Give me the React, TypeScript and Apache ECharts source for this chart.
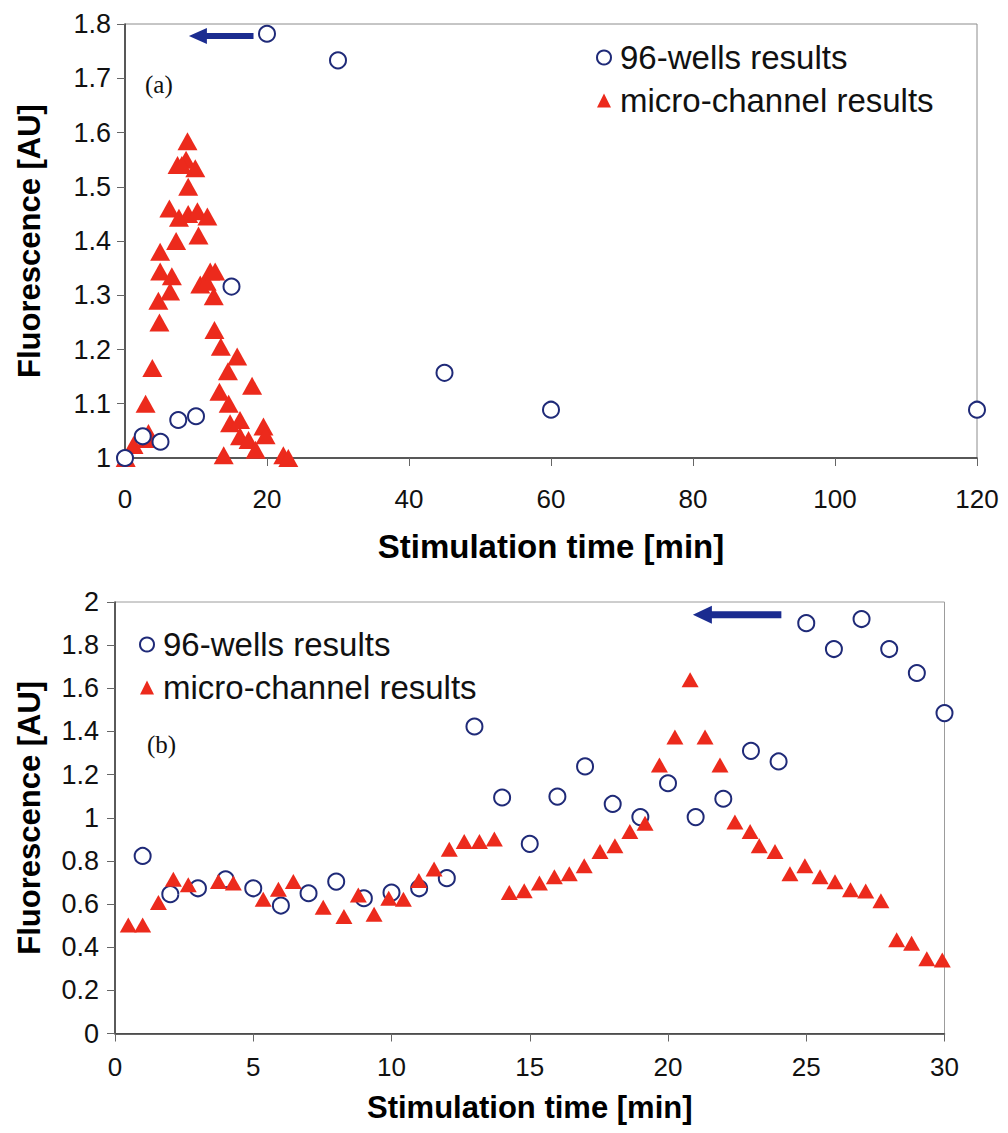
import React, { useEffect, useRef } from "react";
import * as echarts from "echarts";

// ---- Panel (a) data ----
const aWellsX = [0, 2.5, 5, 7.5, 10, 15, 20, 30, 45, 60, 120];
const aWellsY = [1.0, 1.04, 1.03, 1.07, 1.077, 1.316, 1.782, 1.733, 1.157, 1.089, 1.089];

const aChannelX = [
  0.1, 1.2, 3.0, 3.3, 2.9, 3.85, 4.85, 4.7, 6.35, 4.95, 6.6, 4.95, 7.2, 6.25, 7.6, 8.9,
  10.2, 11.6, 10.35, 7.4, 8.6, 9.9, 8.8, 8.9, 8.0, 10.6, 11.5, 12.0, 12.7, 12.5, 12.6,
  13.5, 15.8, 14.5, 17.9, 13.3, 14.6, 14.8, 16.2, 19.5, 19.8, 16.2, 17.4, 18.4, 13.9,
  22.3, 23.0,
];
const aChannelY = [
  1.0, 1.024, 1.035, 1.046, 1.1, 1.166, 1.25, 1.29, 1.307, 1.344, 1.335, 1.38, 1.4, 1.46,
  1.443, 1.45, 1.455, 1.445, 1.41, 1.54, 1.55, 1.534, 1.584, 1.5, 1.54, 1.32, 1.325,
  1.344, 1.344, 1.298, 1.236, 1.205, 1.187, 1.16, 1.133, 1.122, 1.1, 1.064, 1.07, 1.058,
  1.042, 1.04, 1.033, 1.015, 1.005, 1.005, 1.0,
];

// ---- Panel (b) data ----
const bWellsX = [
  1, 2, 3, 4, 5, 6, 7, 8, 9, 10, 11, 12, 13, 14, 15, 16, 17, 18, 19, 20, 21, 22, 23, 24,
  25, 26, 27, 28, 29, 30,
];
const bWellsY = [
  0.823, 0.646, 0.673, 0.715, 0.673, 0.593, 0.65, 0.704, 0.627, 0.653, 0.673, 0.72, 1.423,
  1.094, 0.879, 1.098, 1.238, 1.064, 1.003, 1.16, 1.003, 1.088, 1.31, 1.261, 1.902, 1.782,
  1.921, 1.782, 1.671, 1.485,
];
const bChannelX = [
  0.48, 1.0, 1.57, 2.11, 2.65, 3.74, 4.28, 5.36, 5.91, 6.45, 7.53, 8.28, 8.8, 9.37, 9.9,
  10.43, 10.99, 11.54, 12.09, 12.63, 13.18, 13.72, 14.26, 14.8, 15.35, 15.89, 16.43, 16.97,
  17.54, 18.08, 18.62, 19.17, 19.69, 20.25, 20.8, 21.34, 21.88, 22.42, 22.97, 23.3, 23.87,
  24.41, 24.95, 25.5, 26.04, 26.6, 27.15, 27.7, 28.27, 28.81, 29.36, 29.92,
];
const bChannelY = [
  0.503, 0.503, 0.607, 0.715, 0.689, 0.704, 0.697, 0.622, 0.669, 0.704, 0.585, 0.542, 0.642,
  0.553, 0.627, 0.622, 0.709, 0.762, 0.854, 0.89, 0.89, 0.901, 0.653, 0.662, 0.697, 0.727,
  0.74, 0.777, 0.843, 0.87, 0.936, 0.975, 1.245, 1.374, 1.64, 1.374, 1.245, 0.98, 0.936,
  0.87, 0.843, 0.74, 0.777, 0.727, 0.703, 0.666, 0.661, 0.615, 0.434, 0.418, 0.346, 0.341,
];

// Axis settings
const aXTicks = { min: 0, max: 120, interval: 20 };
const aYTicks = { min: 1, max: 1.8, interval: 0.1 };
const bXTicks = { min: 0, max: 30, interval: 5 };
const bYTicks = { min: 0, max: 2, interval: 0.2 };

const seriesNames = ["96-wells results", "micro-channel results"];
const xTitle = "Stimulation time [min]";
const yTitle = "Fluorescence [AU]";

// Arrow annotations in data coordinates: [fromX, toX, y]
const aArrow = [18.1, 9.0, 1.778];
const bArrow = [24.1, 20.9, 1.941];

const zip = (xs: number[], ys: number[]) => xs.map((x, i) => [x, ys[i]]);

const SANS = "'Liberation Sans', Arial, sans-serif";
const SERIF = "'Liberation Serif', 'Times New Roman', serif";
const NAVY = "#1f2a78";
const RED = "#ec2a1c";
const ARROW = "#1b2c90";

function axisX(gridIndex: number, t: any, labelMargin: number, nameGap: number, nameSize: number) {
  return {
    gridIndex,
    type: "value",
    ...t,
    axisLine: { show: true, onZero: false, lineStyle: { color: "#333", width: 1.5 } },
    axisTick: { show: true, length: 8, inside: false, lineStyle: { color: "#666" } },
    splitLine: { show: false },
    axisLabel: { fontSize: 26, color: "#111", margin: labelMargin, fontFamily: SANS },
    name: xTitle,
    nameLocation: "middle",
    nameGap,
    nameTextStyle: { fontSize: nameSize, fontWeight: "bold", color: "#000", fontFamily: SANS },
  };
}

function axisY(gridIndex: number, t: any, labelMargin: number, nameGap: number) {
  return {
    gridIndex,
    type: "value",
    ...t,
    axisLine: { show: true, onZero: false, lineStyle: { color: "#333", width: 1.5 } },
    axisTick: { show: true, length: 8, inside: false, lineStyle: { color: "#666" } },
    splitLine: { show: false },
    axisLabel: { fontSize: 27, color: "#111", margin: labelMargin, fontFamily: SANS },
    name: yTitle,
    nameLocation: "middle",
    nameGap,
    nameTextStyle: { fontSize: 31, fontWeight: "bold", color: "#000", fontFamily: SANS },
  };
}

function arrowPoly(chart: any, gridIndex: number, arr: number[], headLen: number, headHalf: number, shaftHalf: number) {
  const p1 = chart.convertToPixel({ gridIndex }, [arr[0], arr[2]]);
  const p2 = chart.convertToPixel({ gridIndex }, [arr[1], arr[2]]);
  const tail = p1[0];
  const tip = p2[0];
  const y = p1[1];
  const hb = tip + headLen;
  return {
    type: "polygon",
    silent: true,
    shape: {
      points: [
        [tip, y],
        [hb, y - headHalf],
        [hb, y - shaftHalf],
        [tail, y - shaftHalf],
        [tail, y + shaftHalf],
        [hb, y + shaftHalf],
        [hb, y + headHalf],
      ],
    },
    style: { fill: ARROW },
  };
}

function legendFor(left: number, top: number, fontSize: number, gap: number) {
  return {
    orient: "vertical",
    left,
    top,
    itemWidth: 14,
    itemHeight: 14,
    itemGap: gap,
    data: [
      { name: seriesNames[0], icon: "emptyCircle", itemStyle: { color: NAVY, borderColor: NAVY, borderWidth: 2 } },
      { name: seriesNames[1], icon: "triangle", itemStyle: { color: RED, borderWidth: 0 } },
    ],
    textStyle: { fontSize, color: "#111", fontFamily: SANS, padding: [0, 0, 0, 4] },
    selectedMode: false,
  };
}

export default function App() {
  const ref = useRef<HTMLDivElement>(null);

  useEffect(() => {
    document.body.style.margin = "0";
    if (!ref.current) return;
    const chart = echarts.init(ref.current, null, { renderer: "svg" });

    const option: any = {
      animation: false,
      backgroundColor: "#fff",
      grid: [
        { left: 125, top: 24, width: 852, height: 434, show: true, borderColor: "#8c8c8c", borderWidth: 1 },
        { left: 115, top: 602, width: 829.5, height: 431.5, show: true, borderColor: "#9c9c9c", borderWidth: 1 },
      ],
      xAxis: [axisX(0, aXTicks, 28, 72, 33), axisX(1, bXTicks, 20, 58, 31)],
      yAxis: [axisY(0, aYTicks, 14, 80), axisY(1, bYTicks, 16, 70)],
      legend: [legendFor(591, 36, 33, 10), legendFor(134, 623, 33, 10)],
      series: [
        {
          name: seriesNames[1],
          type: "scatter",
          xAxisIndex: 0,
          yAxisIndex: 0,
          data: zip(aChannelX, aChannelY),
          symbol: "triangle",
          symbolSize: [20, 18],
          itemStyle: { color: RED, opacity: 1 },
          clip: false,
        },
        {
          name: seriesNames[0],
          type: "scatter",
          xAxisIndex: 0,
          yAxisIndex: 0,
          data: zip(aWellsX, aWellsY),
          symbol: "emptyCircle",
          symbolSize: 16,
          itemStyle: { color: NAVY, borderColor: NAVY, borderWidth: 2, opacity: 1 },
          clip: false,
          z: 3,
        },
        {
          name: seriesNames[0],
          type: "scatter",
          xAxisIndex: 1,
          yAxisIndex: 1,
          data: zip(bWellsX, bWellsY),
          symbol: "emptyCircle",
          symbolSize: 16,
          itemStyle: { color: NAVY, borderColor: NAVY, borderWidth: 2, opacity: 1 },
          clip: false,
        },
        {
          name: seriesNames[1],
          type: "scatter",
          xAxisIndex: 1,
          yAxisIndex: 1,
          data: zip(bChannelX, bChannelY),
          symbol: "triangle",
          symbolSize: [17, 15],
          itemStyle: { color: RED, opacity: 1 },
          clip: false,
          z: 3,
        },
      ],
    };

    chart.setOption(option);

    chart.setOption({
      graphic: [
        arrowPoly(chart, 0, aArrow, 18, 8, 3),
        arrowPoly(chart, 1, bArrow, 19, 9, 3.5),
        {
          type: "text",
          left: 145,
          top: 72,
          silent: true,
          style: { text: "(a)", fontSize: 25, fontFamily: SERIF, fill: "#111" },
        },
        {
          type: "text",
          left: 147,
          top: 732,
          silent: true,
          style: { text: "(b)", fontSize: 25, fontFamily: SERIF, fill: "#111" },
        },
      ],
    });

    return () => chart.dispose();
  }, []);

  return <div ref={ref} style={{ width: 1008, height: 1133 }} />;
}
